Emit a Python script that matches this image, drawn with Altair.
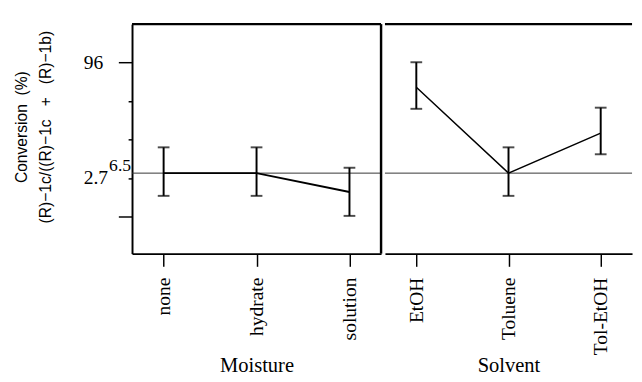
import altair as alt
import pandas as pd

# ---- data ----
moisture_levels = ["none", "hydrate", "solution"]
moisture_mean = [1.13, 1.13, 0.64]
moisture_lo = [0.54, 0.54, 0.02]
moisture_hi = [1.80, 1.80, 1.27]

solvent_levels = ["EtOH", "Toluene", "Tol-EtOH"]
solvent_mean = [3.36, 1.13, 2.17]
solvent_lo = [2.80, 0.54, 1.62]
solvent_hi = [4.01, 1.80, 2.83]

grand_mean = [1.13]
y_tick_values = [0, 1, 2, 3, 4]
y_tick_labels = {4: "96", 1: "2.7"}
y_long_ticks = [0, 4]
superscript_value = [1]
superscript_text = ["6.5"]
NB = "\u00a0"
y_title_lines = [
    NB * 6 + "Conversion" + NB * 2 + "(%)",
    "(R)\u22121c/((R)\u22121c" + NB * 3 + "+" + NB * 3 + "(R)\u22121b)",
]
panel_titles = ["Moisture", "Solvent"]

# ---- layout ----
H = 235
W_LEFT = 255
W_RIGHT = 253
SERIF = "Liberation Serif"
SANS = "Liberation Sans"

yscale = alt.Scale(domain=[-0.96, 5.0], nice=False, zero=False)

label_expr = " : ".join(
    [f"datum.value == {k} ? '{v}'" for k, v in y_tick_labels.items()]
) + " : ''"
long_test = " || ".join([f"datum.value == {v}" for v in y_long_ticks])

y_axis_left = alt.Axis(
    title=y_title_lines,
    titleFont=SANS,
    titleFontSize=16,
    titleFontWeight="normal",
    titleColor="black",
    titleLineHeight=25,
    titlePadding=30,
    titleY=105,
    values=y_tick_values,
    labelExpr=label_expr,
    grid=False,
    domainColor="black",
    domainWidth=2,
    tickColor="black",
    tickWidth=1.5,
    tickSize={"condition": {"test": long_test, "value": 14}, "value": 4},
    labelPadding={"condition": {"test": long_test, "value": 36}, "value": 46},
    labelAlign="left",
    labelBaseline="middle",
    labelFont=SERIF,
    labelFontSize=20,
    labelColor="black",
)


def x_axis(title):
    return alt.Axis(
        title=title,
        titleFont=SERIF,
        titleFontSize=21,
        titleFontWeight="normal",
        titleColor="black",
        titleY=121,
        titleBaseline="alphabetic",
        labelAngle=-90,
        labelAlign="right",
        labelBaseline="middle",
        labelFont=SERIF,
        labelFontSize=20,
        labelColor="black",
        labelPadding=11,
        tickSize=13,
        tickWidth=1.5,
        tickColor="black",
        domainColor="black",
        domainWidth=2,
        grid=False,
    )


def panel(levels, mean, lo, hi, title, width, line_w, left):
    df = pd.DataFrame({"level": levels, "mean": mean, "lo": lo, "hi": hi})
    yax = y_axis_left if left else None
    x = alt.X(
        "level:N",
        sort=levels,
        scale=alt.Scale(type="point", padding=0.34),
        axis=x_axis(title),
    )
    base = alt.Chart(df)

    mean_df = pd.DataFrame({"m": grand_mean})
    one = pd.DataFrame({"k": [0]})

    meanline = alt.Chart(mean_df).mark_rule(color="#333", strokeWidth=1).encode(
        y=alt.Y("m:Q", scale=yscale, axis=yax)
    )
    bars = base.mark_rule(color="black", strokeWidth=2).encode(
        x=x,
        y=alt.Y("lo:Q", scale=yscale, axis=yax),
        y2="hi:Q",
    )
    cap_lo = base.mark_tick(color="black", size=12, thickness=2, orient="horizontal").encode(
        x=x, y=alt.Y("lo:Q", scale=yscale, axis=yax)
    )
    cap_hi = base.mark_tick(color="black", size=12, thickness=2, orient="horizontal").encode(
        x=x, y=alt.Y("hi:Q", scale=yscale, axis=yax)
    )
    line = base.mark_line(color="black", strokeWidth=line_w).encode(
        x=x, y=alt.Y("mean:Q", scale=yscale, axis=yax)
    )
    top = alt.Chart(one).mark_rule(color="black", strokeWidth=2.5).encode(
        x=alt.value(0), x2=alt.value(width), y=alt.value(0)
    )
    layers = [meanline, bars, cap_lo, cap_hi, line, top]
    if left:
        divider = alt.Chart(one).mark_rule(color="black", strokeWidth=2.5).encode(
            x=alt.value(width), y=alt.value(0), y2=alt.value(H)
        )
        sup_df = pd.DataFrame({"v": superscript_value, "t": superscript_text})
        sup = alt.Chart(sup_df).mark_text(
            align="right", baseline="alphabetic", dy=-7.5, font=SERIF, fontSize=18, color="black"
        ).encode(
            x=alt.value(-1),
            y=alt.Y("v:Q", scale=yscale, axis=yax),
            text="t:N",
        )
        layers += [divider, sup]
    return alt.layer(*layers).properties(width=width, height=H)


left = panel(moisture_levels, moisture_mean, moisture_lo, moisture_hi,
             panel_titles[0], W_LEFT, 2, True)
right = panel(solvent_levels, solvent_mean, solvent_lo, solvent_hi,
              panel_titles[1], W_RIGHT, 1.5, False)

chart = (
    alt.hconcat(left, right, spacing=0)
    .properties(padding={"left": 6, "top": 10, "right": 0, "bottom": 4}, background="white")
    .configure_view(strokeWidth=0)
)

chart.save("out.html", embed_options={"renderer": "svg", "actions": False})
